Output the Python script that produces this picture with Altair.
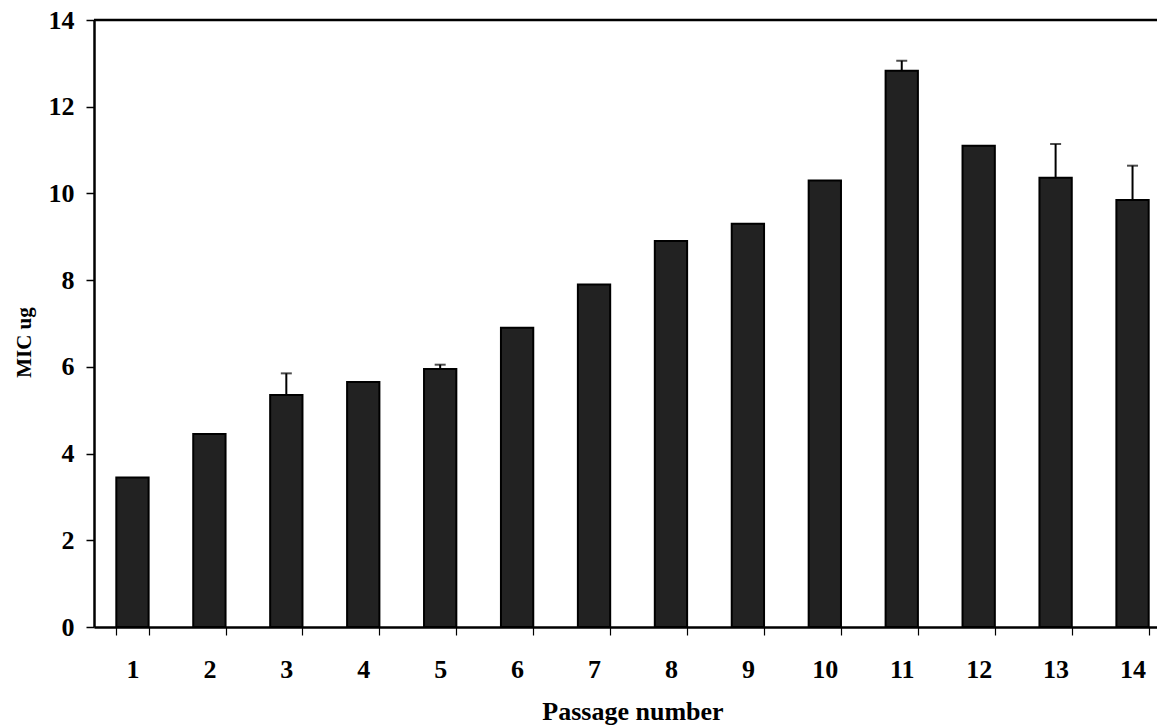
import altair as alt
import pandas as pd

# Data
passages = [str(i) for i in range(1, 15)]
mic = [3.45, 4.45, 5.35, 5.65, 5.95, 6.9, 7.9, 8.9, 9.3, 10.3, 12.83, 11.1, 10.36, 9.85]
err_up = [0, 0, 0.5, 0, 0.1, 0, 0, 0, 0, 0, 0.23, 0, 0.78, 0.79]
y_ticks = [0, 2, 4, 6, 8, 10, 12, 14]

df = pd.DataFrame({"passage": passages, "mic": mic, "err": err_up})
df["upper"] = df["mic"] + df["err"]

W = 1063
H = 607
FONT = "Liberation Serif"

xscale = alt.Scale(domain=passages, range=[0, 1077], paddingInner=0.58, paddingOuter=0.29)
yscale = alt.Scale(domain=[0, 14], nice=False, zero=True)

x_enc = alt.X(
    "passage:O",
    sort=passages,
    scale=xscale,
    axis=alt.Axis(
        title="Passage number",
        labelAngle=0,
        tickBand="extent",
        labelFont=FONT,
        labelFontWeight="bold",
        labelFontSize=26,
        labelColor="black",
        labelPadding=21,
        titleFont=FONT,
        titleFontWeight="bold",
        titleFontSize=26,
        titleColor="black",
        titlePadding=16,
        domainColor="black",
        domainWidth=2.5,
        tickColor="black",
        tickWidth=1.2,
        tickSize=8,
        grid=False,
    ),
)

y_enc = alt.Y(
    "mic:Q",
    scale=yscale,
    axis=alt.Axis(
        title="MIC ug",
        values=y_ticks,
        labelFont=FONT,
        labelFontWeight="bold",
        labelFontSize=26,
        labelColor="black",
        labelPadding=12,
        titleFont=FONT,
        titleFontWeight="bold",
        titleFontSize=21,
        titleColor="black",
        titleAngle=270,
        titleX=-70,
        titleY=322,
        titleBaseline="middle",
        domainColor="black",
        domainWidth=2.5,
        tickColor="black",
        tickWidth=1.5,
        tickSize=8,
        grid=False,
    ),
)

base = alt.Chart(df)

bars = base.mark_bar(fill="#222222", stroke="black", strokeWidth=2).encode(x=x_enc, y=y_enc)

err_rule = base.transform_filter("datum.err > 0").mark_rule(color="black", strokeWidth=2).encode(
    x=alt.X("passage:O", sort=passages, scale=xscale),
    y=alt.Y("mic:Q", scale=yscale),
    y2="upper:Q",
)

err_cap = base.transform_filter("datum.err > 0").mark_tick(
    color="black", thickness=2, size=11, orient="horizontal"
).encode(
    x=alt.X("passage:O", sort=passages, scale=xscale),
    y=alt.Y("upper:Q", scale=yscale),
)

top_line = base.transform_filter("datum.passage == '1'").mark_rule(color="black", strokeWidth=2.5).encode(
    x=alt.value(0), x2=alt.value(W), y=alt.value(0)
)

chart = (
    alt.layer(bars, err_rule, err_cap, top_line)
    .properties(
        width=W,
        height=H,
        autosize=alt.AutoSizeParams(type="none"),
        padding={"left": 94, "top": 20, "right": 0, "bottom": 100},
        background="white",
    )
    .configure_view(stroke=None)
)

chart.save("out.html", embed_options={"renderer": "svg", "actions": False})
